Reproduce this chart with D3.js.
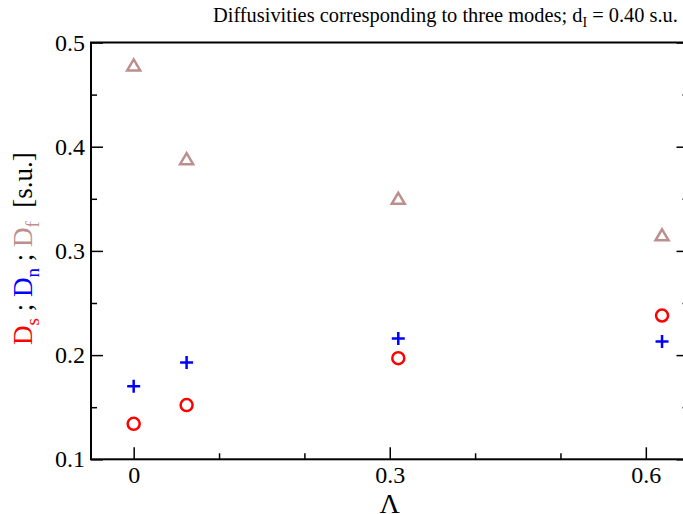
<!DOCTYPE html>
<html lang="en">
<head>
<meta charset="UTF-8">
<title>Diffusivities</title>
<script src="https://cdnjs.cloudflare.com/ajax/libs/d3/7.8.5/d3.min.js"></script>
<style>
    body { margin: 0; background: #fff; }
    text { font-family: "Liberation Serif", "DejaVu Serif", serif; }
</style>
</head>
<body>
<div id="chart"></div>
<script>
    // Data
    var lambda = [0, 0.062, 0.31, 0.619];
    var dS = [0.134, 0.152, 0.197, 0.238];   // red circles
    var dN = [0.170, 0.193, 0.216, 0.213];   // blue plus
    var dF = [0.478, 0.388, 0.350, 0.315];   // triangles

    var xMajor = [0, 0.3, 0.6];
    var xMinor = [0.1, 0.2, 0.4, 0.5];
    var yMajor = [0.1, 0.2, 0.3, 0.4, 0.5];
    var yMinor = [0.15, 0.25, 0.35, 0.45];

    var w = 683, h = 514;
    var plotL = 91, plotR = 688.5, plotT = 42.5, plotB = 459.3;

    var svg = d3.select("#chart").append("svg")
        .attr("width", w)
        .attr("height", h);

    var x = d3.scaleLinear().domain([-0.05, 0.65]).range([plotL, plotR]);
    var y = d3.scaleLinear().domain([0.1, 0.5]).range([plotB, plotT]);

    // axes (ticks point inward)
    function styleAxis(g) {
        g.select(".domain").remove();
        g.selectAll("line").attr("stroke", "#000").attr("stroke-width", 1.5);
        g.selectAll("text").attr("font-family", "Liberation Serif, serif").attr("fill", "#000");
    }

    svg.append("g")
        .attr("transform", "translate(0," + plotB + ")")
        .call(d3.axisBottom(x).tickValues(xMajor).tickSize(-12).tickPadding(7)
            .tickFormat(function(d) { return d === 0 ? "0" : d3.format(".1f")(d); }))
        .call(styleAxis)
        .selectAll("text").attr("font-size", "24px");

    svg.append("g")
        .attr("transform", "translate(0," + plotB + ")")
        .call(d3.axisBottom(x).tickValues(xMinor).tickSize(-6).tickFormat(""))
        .call(styleAxis);

    svg.append("g")
        .attr("transform", "translate(" + plotL + ",0)")
        .call(d3.axisLeft(y).tickValues(yMajor).tickSize(-12).tickPadding(6).tickFormat(d3.format(".1f")))
        .call(styleAxis)
        .selectAll("text").attr("font-size", "24px");

    svg.append("g")
        .attr("transform", "translate(" + plotL + ",0)")
        .call(d3.axisLeft(y).tickValues(yMinor).tickSize(-6).tickFormat(""))
        .call(styleAxis);

    svg.append("g")
        .attr("transform", "translate(" + plotR + ",0)")
        .call(d3.axisRight(y).tickValues(yMajor).tickSize(-12).tickFormat(""))
        .call(styleAxis);

    svg.append("g")
        .attr("transform", "translate(" + plotR + ",0)")
        .call(d3.axisRight(y).tickValues(yMinor).tickSize(-6).tickFormat(""))
        .call(styleAxis);

    // frame
    svg.append("rect")
        .attr("x", plotL).attr("y", plotT)
        .attr("width", plotR - plotL).attr("height", plotB - plotT)
        .attr("fill", "none").attr("stroke", "#000").attr("stroke-width", 2);

    // markers
    var pts = function(vals) {
        return vals.map(function(v, i) { return { x: lambda[i], y: v }; });
    };

    svg.append("g").selectAll("path")
        .data(pts(dF))
        .enter().append("path")
        .attr("transform", function(d) { return "translate(" + x(d.x) + "," + y(d.y) + ")"; })
        .attr("d", "M0,-6 L6.5,5 L-6.5,5 Z")
        .attr("fill", "none")
        .attr("stroke", "#bc8f8f")
        .attr("stroke-width", 2.5);

    svg.append("g").selectAll("circle")
        .data(pts(dS))
        .enter().append("circle")
        .attr("cx", function(d) { return x(d.x); })
        .attr("cy", function(d) { return y(d.y); })
        .attr("r", 6)
        .attr("fill", "none")
        .attr("stroke", "#ff0000")
        .attr("stroke-width", 2.5);

    svg.append("g").selectAll("path")
        .data(pts(dN))
        .enter().append("path")
        .attr("transform", function(d) { return "translate(" + x(d.x) + "," + y(d.y) + ")"; })
        .attr("d", "M-6.5,0 L6.5,0 M0,-6.5 L0,6.5")
        .attr("stroke", "#0000ff")
        .attr("stroke-width", 2.5);

    // title
    var title = svg.append("text")
        .attr("x", 213).attr("y", 22)
        .attr("font-size", "20.4px")
        .attr("fill", "#000");
    title.append("tspan").text("Diffusivities corresponding to three modes; d");
    title.append("tspan").attr("dy", 5).attr("font-size", "14px").text("I");
    title.append("tspan").attr("dy", -5).text(" = 0.40 s.u.");

    // x label
    svg.append("text")
        .attr("x", x(0.3)).attr("y", 513)
        .attr("text-anchor", "middle")
        .attr("font-size", "28px")
        .text("\u039B");

    // y label
    var yl = svg.append("text")
        .attr("transform", "translate(32," + 345 + ") rotate(-90)")
        .attr("font-size", "27px");
    var parts = [
        ["D", "s", "#ff0000"],
        ["D", "n", "#0000ff"],
        ["D", "f", "#bc8f8f"]
    ];
    parts.forEach(function(p, i) {
        yl.append("tspan").attr("fill", p[2]).text(p[0]);
        yl.append("tspan").attr("fill", p[2]).attr("dy", 7).attr("font-size", "19px").text(p[1]);
        yl.append("tspan").attr("dy", -7).attr("fill", "#000").text(i < 2 ? " ; " : "\u00A0 [s.u.]");
    });
</script>
</body>
</html>
